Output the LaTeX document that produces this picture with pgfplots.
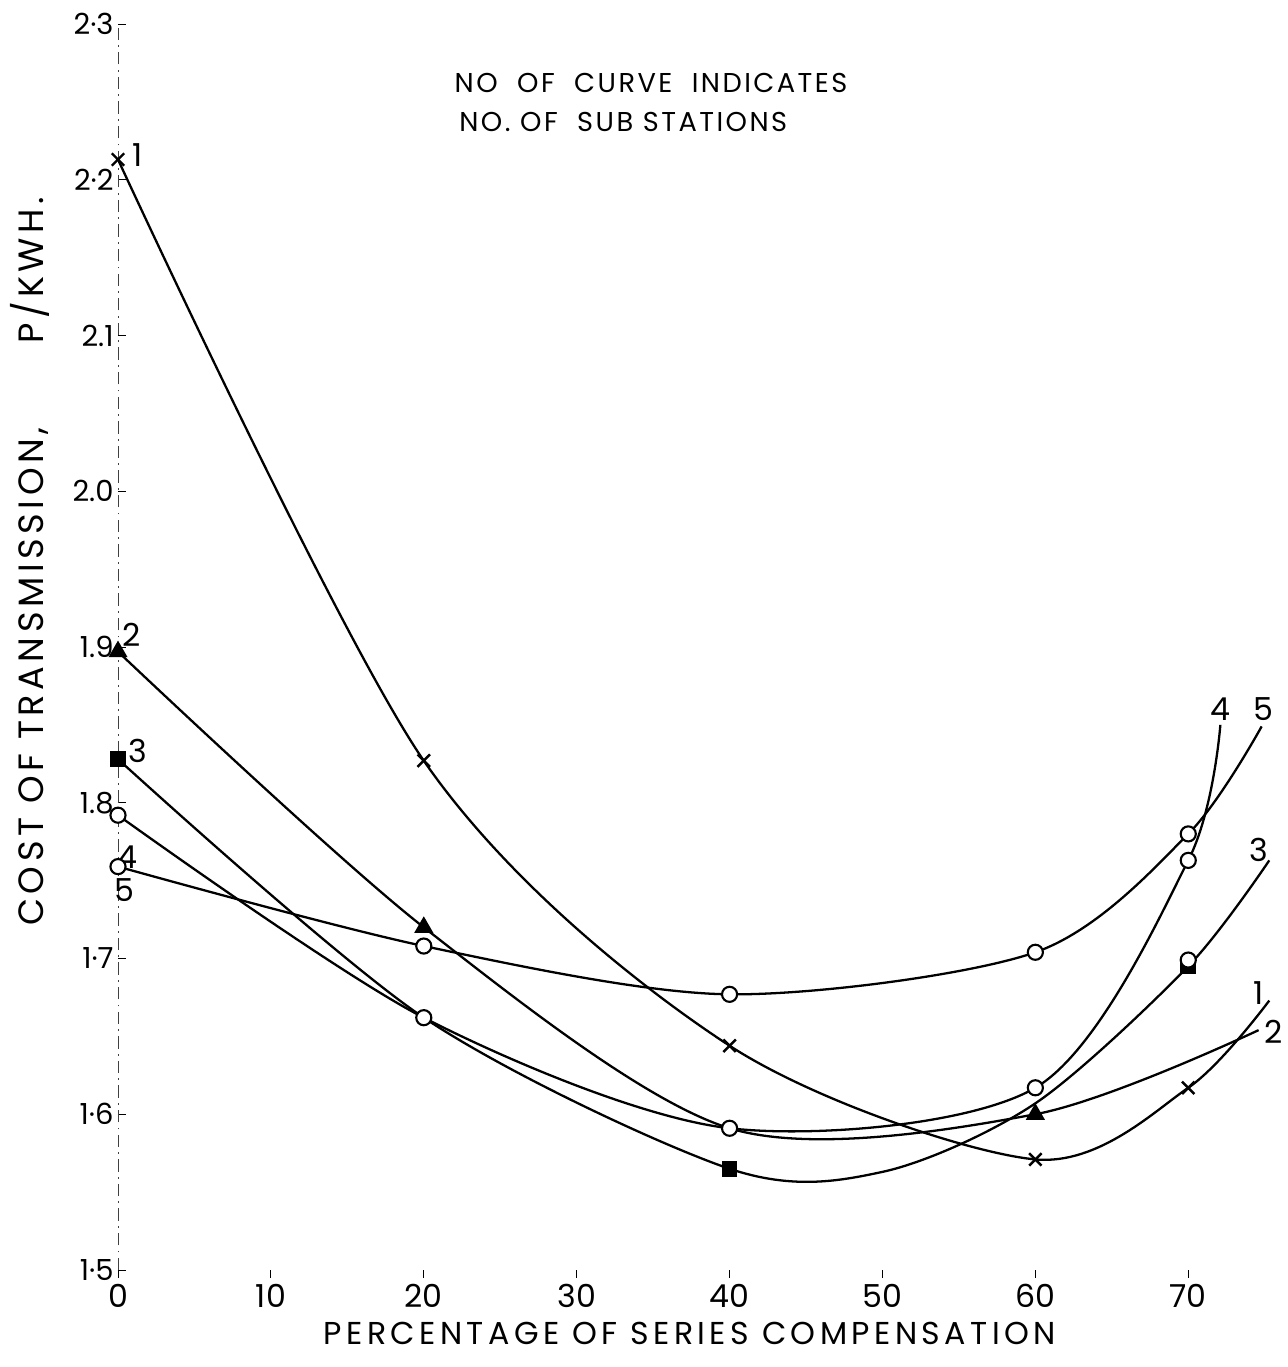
\documentclass[border=0pt]{standalone}
\usepackage{fontspec}
\setmainfont{Poppins}
\usepackage{pgfplots}
\pgfplotsset{compat=1.18}
\newcommand{\tickfont}{\fontsize{18}{18}\selectfont}
\begin{document}
\begin{tikzpicture}
\begin{axis}[
    at={(0,0)}, anchor=south west,
    scale only axis, width=23.24cm, height=24.92cm,
    xmin=0, xmax=76, ymin=1.5, ymax=2.3,
    clip=false,
    axis x line=bottom, axis y line=left,
    x axis line style={draw=none},
    y axis line style={-, line width=0.5pt, black!75, dash pattern=on 7pt off 3pt on 1pt off 3pt},
    xtick={0,10,20,30,40,50,60,70},
    xticklabels={0,10,20,30,40,50,60,70},
    ytick={1.5,1.6,1.7,1.8,1.9,2.0,2.1,2.2,2.3},
    yticklabels={1·5,1·6,1·7,1.8,1.9,2.0,2.1,2·2,2·3},
    major tick length=0.16cm,
    xtick align=outside, ytick align=inside,
    tick style={black, line width=0.5pt},
    xticklabel style={font=\tickfont},
    yticklabel style={font=\fontsize{16.5}{16.5}\selectfont, xshift=1pt},
]
% curve 1 (crosses)
\addplot[smooth, black, line width=1.3pt, mark=x, mark size=5pt,
  mark options={line width=1.4pt}, mark indices={1,2,3,4,5}]
  coordinates {(0,2.213) (20,1.827) (40,1.644) (60,1.571) (70,1.617) (75.3,1.673)};
% curve 2 (triangles)
\addplot[smooth, black, line width=1.3pt, mark=triangle*, mark size=5pt,
  mark indices={1,2,4}]
  coordinates {(0,1.897) (20,1.720) (40,1.591) (60,1.600) (74.6,1.654)};
% curve 3 (squares)
\addplot[smooth, black, line width=1.3pt, mark=square*, mark size=3.8pt,
  mark indices={1,3,6}]
  coordinates {(0,1.828) (20,1.662) (40,1.565) (50,1.563) (60,1.607) (70,1.695) (75.3,1.763)};
\addplot[only marks, mark=*, mark size=4.3pt, mark options={fill=white, draw=black, line width=1.2pt}]
  coordinates {(70,1.699)};
% curve 4 (circles)
\addplot[smooth, black, line width=1.3pt, mark=*, mark size=4.3pt,
  mark options={fill=white, draw=black, line width=1.2pt}, mark indices={1,2,3,4,5}]
  coordinates {(0,1.792) (20,1.662) (40,1.591) (60,1.617) (70,1.763) (72.1,1.850)};
% curve 5 (circles)
\addplot[smooth, black, line width=1.3pt, mark=*, mark size=4.3pt,
  mark options={fill=white, draw=black, line width=1.2pt}, mark indices={1,2,3,4,5}]
  coordinates {(0,1.759) (20,1.708) (40,1.677) (60,1.704) (70,1.780) (74.8,1.849)};

% curve numbers
\begin{scope}[every node/.style={font=\fontsize{18}{18}\selectfont, inner sep=0pt}]
\node at (axis cs:1.3,2.216) {1};
\node at (axis cs:0.9,1.908) {2};
\node at (axis cs:1.3,1.833) {3};
\node at (axis cs:0.6,1.765) {4};
\node at (axis cs:0.4,1.744) {5};
\node at (axis cs:72.1,1.860) {4};
\node at (axis cs:74.9,1.860) {5};
\node at (axis cs:74.6,1.770) {3};
\node at (axis cs:74.6,1.678) {1};
\node at (axis cs:75.6,1.653) {2};
\end{scope}

% note and axis titles
\node[anchor=west, font=\fontsize{15.5}{15.5}\selectfont, inner sep=0pt] at (axis cs:22.0,2.262)
  {\addfontfeatures{LetterSpace=9}NO\ \ OF\ \ CURVE\ \ INDICATES};
\node[anchor=west, font=\fontsize{15.5}{15.5}\selectfont, inner sep=0pt] at (axis cs:22.3,2.237)
  {\addfontfeatures{LetterSpace=9}NO.\ OF\ \ SUB STATIONS};
\node[font=\fontsize{18}{18}\selectfont, inner sep=0pt] at (axis cs:37.4,1.459)
  {\addfontfeatures{LetterSpace=14}PERCENTAGE OF SERIES COMPENSATION};
\node[rotate=90, font=\fontsize{20}{20}\selectfont, inner sep=0pt] at (axis cs:-5.76,1.955)
  {\addfontfeatures{LetterSpace=13}COST OF TRANSMISSION,\ \ \ \ \ \ P/KWH.};
\end{axis}
\pgfresetboundingbox
\useasboundingbox (-2.36,-1.94) rectangle (23.38,25.40);
\end{tikzpicture}
\end{document}
